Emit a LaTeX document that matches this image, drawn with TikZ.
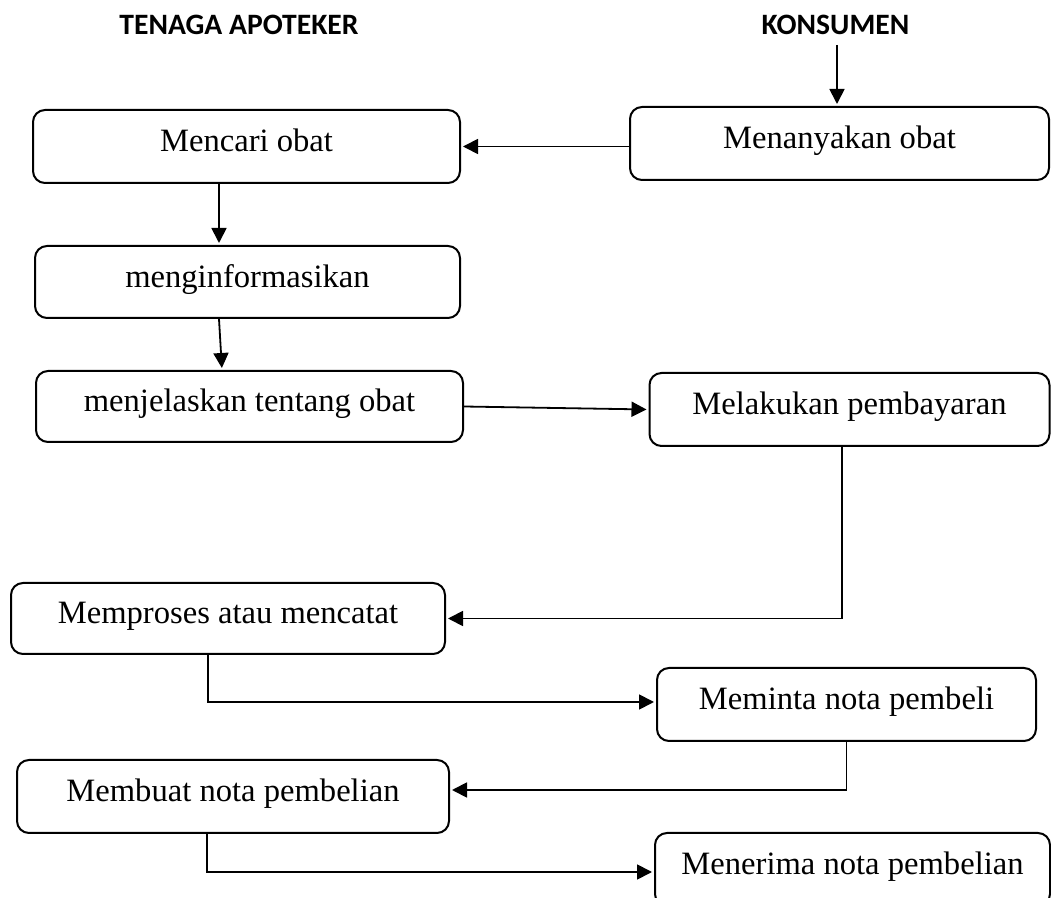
\documentclass[tikz,border=0pt]{standalone}
\usepackage{fontspec}
\setmainfont{Liberation Serif}
\newfontfamily\hdfont{Carlito}
\usetikzlibrary{arrows.meta}
\begin{document}
\begin{tikzpicture}[x=0.5pt,y=-0.5pt,
  box/.style={draw, line width=1pt, rounded corners=6pt, inner sep=0pt,
    font=\fontsize{16.3pt}{19pt}\selectfont, text height=0.8em, text depth=0.25em},
  hd/.style={font=\hdfont\bfseries\fontsize{14.8pt}{17pt}\selectfont, inner sep=0pt, anchor=base},
  arr/.style={line width=0.9pt, -{Triangle[length=7.5pt,width=7.5pt]}, shorten >=1pt}]
\useasboundingbox (0,0) rectangle (1051,898);
\clip (0,0) rectangle (1051,898);
% headers
\node[hd] (tenaga) at (239,35) {TENAGA APOTEKER};
\node[hd] (konsumen) at (835.5,35) {KONSUMEN};
% boxes
\node[box, minimum width=213.5pt, minimum height=36.5pt] (mencari) at (246.5,146.5) {Mencari obat};
\node[box, minimum width=209.5pt, minimum height=36.5pt] (tanya) at (839.5,143.5) {Menanyakan obat};
\node[box, minimum width=212.5pt, minimum height=36pt] (info) at (247.5,282) {menginformasikan};
\node[box, minimum width=213.5pt, minimum height=35.5pt] (jelas) at (249.5,406.5) {menjelaskan tentang obat};
\node[box, minimum width=200pt, minimum height=36.5pt] (bayar) at (849.5,409.5) {Melakukan pembayaran};
\node[box, minimum width=217pt, minimum height=35.5pt] (proses) at (228,618.5) {Memproses atau mencatat};
\node[box, minimum width=189.5pt, minimum height=36.5pt] (minta) at (846.5,704.5) {Meminta nota pembeli};
\node[box, minimum width=216pt, minimum height=36.5pt] (buat) at (233,796.5) {Membuat nota pembelian};
\node[box, minimum width=197.5pt, minimum height=36.5pt] (terima) at (852.5,869.5) {Menerima nota pembelian};
% helper coordinates
\coordinate (k0) at (837,45);
\coordinate (xa) at (219,0);
\coordinate (xb) at (222,0);
\coordinate (xc) at (842,0);
\coordinate (xd) at (208,0);
\coordinate (ye) at (0,790);
\coordinate (xf) at (207,0);
\coordinate (yf) at (0,872);
\coordinate (yg) at (0,702);
% connectors
\draw[arr] (k0) -- (tanya.north -| k0);
\draw[arr] (tanya.west |- mencari.east) -- (mencari.east);
\draw[arr] (mencari.south -| xa) -- (info.north -| xa);
\draw[arr] (info.south -| xa) -- (jelas.north -| xb);
\draw[arr] (jelas.east) -- (bayar.west);
\draw[arr] (bayar.south -| xc) |- (proses.east);
\draw[arr] (proses.south -| xd) |- (minta.west |- yg);
\draw[arr] (minta.south) |- (buat.east |- ye);
\draw[arr] (buat.south -| xf) |- (terima.west |- yf);
\end{tikzpicture}
\end{document}
